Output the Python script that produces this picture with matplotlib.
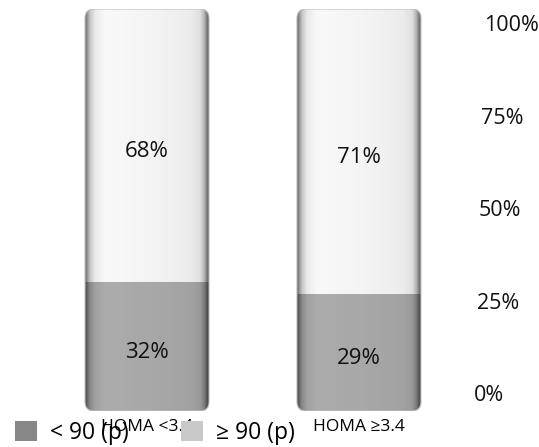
import numpy as np
import matplotlib
matplotlib.use("Agg")
import matplotlib.pyplot as plt
from matplotlib.patches import FancyBboxPatch, Patch
from matplotlib import transforms

# --- data -------------------------------------------------------------
categories = ["HOMA <3.4", "HOMA \u22653.4"]
below_p90 = [32, 29]          # "< 90 (p)" share, %
above_p90 = [68, 71]          # "≥ 90 (p)" share, %
series_names = ["< 90 (p)", "\u2265 90 (p)"]
pct_ticks = [0, 25, 50, 75, 100]
pct_labels = ["0%", "25%", "50%", "75%", "100%"]

# --- style ------------------------------------------------------------
plt.rcParams["font.family"] = ["Open Sans", "DejaVu Sans"]
W, H = 539, 447
fig = plt.figure(figsize=(W / 100, H / 100), dpi=100)
ax = fig.add_axes([40 / W, (H - 411) / H, 426 / W, 402 / H])
XLIM = (-0.505, 1.505)
bar_w = 0.585

low_color = "#ababab"
high_color = "#f8f8f8"
legend_colors = ["#878787", "#c9c9c9"]

# aspect factor (y data units per x data unit at equal pixel length)
ax_w_px, ax_h_px = 426, 402
x_per_px = (XLIM[1] - XLIM[0]) / ax_w_px
y_per_px = 100 / ax_h_px
aspect = y_per_px / x_per_px
radius = 9 * x_per_px

# horizontal shading profile to give the bars a rounded, lit look
t = np.linspace(0, 1, 240)
stops = [0.0, 0.015, 0.04, 0.08, 0.16, 0.55, 0.85, 0.93, 0.965, 0.985, 1.0]
alpha = [0.60, 0.42, 0.20, 0.06, 0.0, 0.02, 0.05, 0.10, 0.28, 0.50, 0.62]
shade = np.zeros((1, t.size, 4))
shade[..., 3] = np.interp(t, stops, alpha)

# value labels sit slightly below the segment centre
label_drop = transforms.ScaledTranslation(0, -0.06, fig.dpi_scale_trans)

x = np.arange(len(categories))
for i, (lo, hi) in enumerate(zip(below_p90, above_p90)):
    total = lo + hi
    x0 = x[i] - bar_w / 2
    outline = FancyBboxPatch(
        (x0, 0), bar_w, total,
        boxstyle=f"round,pad=0,rounding_size={radius}",
        mutation_aspect=aspect, transform=ax.transData,
        facecolor="none", edgecolor="#bdbdbd", linewidth=0.8, zorder=4,
    )
    ax.add_patch(outline)
    b1 = ax.bar(x[i], lo, bar_w, color=low_color, zorder=2)
    b2 = ax.bar(x[i], hi, bar_w, bottom=lo, color=high_color, zorder=2)
    for r in list(b1) + list(b2):
        r.set_clip_path(outline)
    im = ax.imshow(shade, extent=(x0, x0 + bar_w, 0, total), aspect="auto",
                   interpolation="bilinear", zorder=3)
    im.set_clip_path(outline)

    ax.text(x[i], lo / 2, f"{lo}%", ha="center", va="center",
            fontsize=16, color="#111111", zorder=5,
            transform=ax.transData + label_drop)
    ax.text(x[i], lo + hi / 2, f"{hi}%", ha="center", va="center",
            fontsize=16, color="#111111", zorder=5,
            transform=ax.transData + label_drop)

ax.set_xlim(*XLIM)
ax.set_ylim(0, 100)
for s in ax.spines.values():
    s.set_visible(False)
ax.set_yticks([])
ax.set_xticks(x)
ax.set_xticklabels(categories, fontsize=12.5)
ax.tick_params(axis="x", length=0, pad=6)

# percentage scale on the right, drawn in perspective
ax2 = ax.twinx()
ax2.set_ylim(-5.14, 103.5)
ax2.axis("off")
blend = transforms.blended_transform_factory(ax2.transAxes, ax2.transData)
for v, lab in zip(pct_ticks, pct_labels):
    shift = transforms.ScaledTranslation((8 + 0.1 * v) / 100, -0.04,
                                         fig.dpi_scale_trans)
    ax2.text(1.0, v, lab, transform=blend + shift, ha="left", va="center",
             fontsize=15.5, color="#111111")

handles = [Patch(facecolor=c, edgecolor="none") for c in legend_colors]
fig.legend(handles, series_names, loc="lower left", bbox_to_anchor=(15 / W, 0.004),
           ncol=2, frameon=False, fontsize=16.5, handlelength=0.95, handleheight=0.95,
           handletextpad=0.57, columnspacing=2.3, borderpad=0, borderaxespad=0)

fig.savefig("out.png", dpi=100)
